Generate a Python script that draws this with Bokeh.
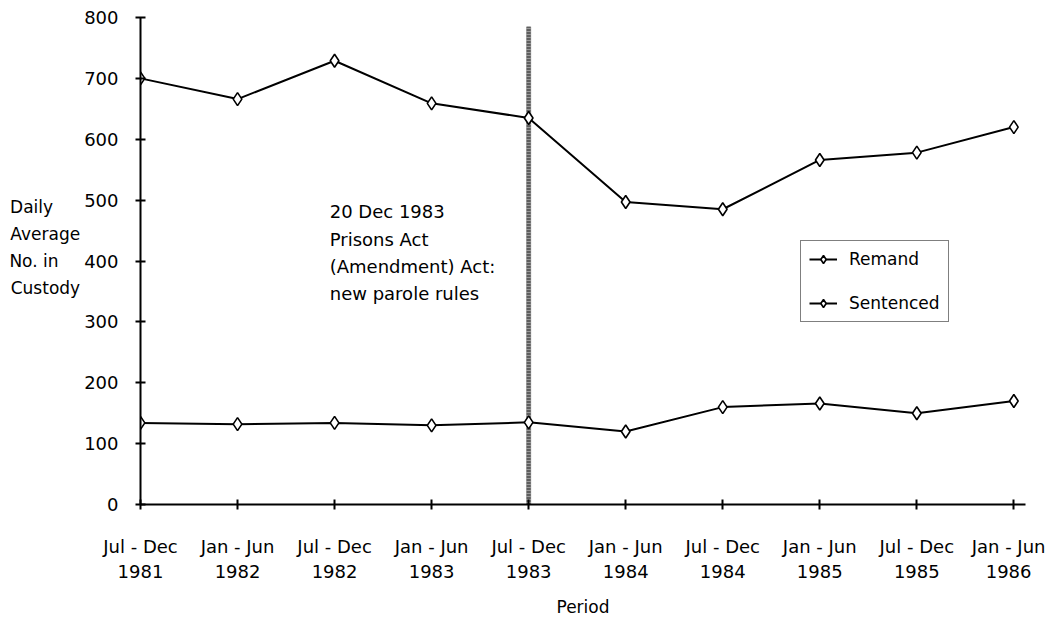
from bokeh.plotting import figure
from bokeh.models import (Range1d, FixedTicker, Label, Legend, LegendItem)
from bokeh.embed import file_html
from bokeh.resources import INLINE

# ---- data ----
periods = ["Jul - Dec\n1981", "Jan - Jun\n1982", "Jul - Dec\n1982", "Jan - Jun\n1983",
           "Jul - Dec\n1983", "Jan - Jun\n1984", "Jul - Dec\n1984", "Jan - Jun\n1985",
           "Jul - Dec\n1985", "Jan - Jun\n1986"]
remand = [134, 132, 134, 130, 135, 120, 160, 166, 150, 170]
sentenced = [700, 666, 729, 659, 635, 497, 485, 566, 578, 620]
y_ticks = [0, 100, 200, 300, 400, 500, 600, 700, 800]
event_index = 4          # Jul - Dec 1983 (20 Dec 1983)
event_top = 785
event_text = "20 Dec 1983\nPrisons Act\n(Amendment) Act:\n new parole rules"
y_label_lines = ["Daily", "Average", "No. in", "Custody"]
x_label = "Period"

FONT = "DejaVu Sans"
NB = "\u00a0"
xs = list(range(len(periods)))

# the axis title is drawn right-justified; pad short lines so they read left-aligned
pad = {"Daily": 5, "No. in": 4}
y_label = "\n".join(l + NB * pad.get(l, 0) for l in y_label_lines) + "\n"

p = figure(width=1045, height=619, output_backend="svg", toolbar_location=None,
           x_range=Range1d(0, 9.12), y_range=Range1d(0, 800),
           min_border_left=140, min_border_right=20, min_border_top=17, min_border_bottom=115)
p.outline_line_color = None
p.grid.visible = False
p.background_fill_color = "white"

# axes
p.xaxis.ticker = FixedTicker(ticks=xs)
p.xaxis.major_label_overrides = {i: lab for i, lab in zip(xs, periods)}
p.yaxis.ticker = FixedTicker(ticks=y_ticks)
for ax in (p.xaxis, p.yaxis):
    ax.axis_line_width = 2
    ax.axis_line_color = "black"
    ax.major_tick_line_width = 2
    ax.major_tick_line_color = "black"
    ax.major_tick_in = 5
    ax.major_tick_out = 5
    ax.minor_tick_line_color = None
    ax.major_label_text_font = FONT
    ax.major_label_text_color = "black"
    ax.axis_label_text_font = FONT
    ax.axis_label_text_font_size = "17px"
    ax.axis_label_text_font_style = "normal"
    ax.axis_label_text_color = "black"
p.xaxis.major_label_text_font_size = "18px"
p.xaxis.major_label_standoff = 26
p.yaxis.major_label_text_font_size = "18px"
p.yaxis.major_label_standoff = 17
p.xaxis.axis_label = x_label
p.xaxis.axis_label_standoff = 12
p.yaxis.axis_label = y_label
p.yaxis.axis_label_orientation = "horizontal"
p.yaxis.axis_label_text_align = "right"
p.yaxis.axis_label_text_line_height = 1.35
p.yaxis.axis_label_standoff = 1

# event line
p.segment(x0=[event_index], y0=[0], x1=[event_index], y1=[event_top],
          line_color="#9a9a9a", line_width=5)
p.segment(x0=[event_index], y0=[0], x1=[event_index], y1=[event_top],
          line_color="#222222", line_width=4, line_dash="1 2")

# series
r1l = p.line(xs, remand, line_color="black", line_width=2)
r1m = p.scatter(xs, remand, marker="diamond", size=13, fill_color="white",
                line_color="black", line_width=1.6)
r2l = p.line(xs, sentenced, line_color="black", line_width=2)
r2m = p.scatter(xs, sentenced, marker="diamond", size=13, fill_color="white",
                line_color="black", line_width=1.6)

legend = Legend(items=[LegendItem(label="Remand", renderers=[r1l, r1m]),
                       LegendItem(label="Sentenced", renderers=[r2l, r2m])],
                location=(660, 182), label_text_font=FONT, label_text_font_size="17px",
                label_text_color="black",
                glyph_width=28, glyph_height=20, label_height=20, label_standoff=12,
                spacing=24, padding=8, border_line_color="black", border_line_width=1.5,
                background_fill_color="white", background_fill_alpha=1.0)
p.add_layout(legend, "center")

# annotation text
p.add_layout(Label(x=1.95, y=498, text=event_text, text_font=FONT, text_font_size="18px",
                   text_baseline="top", text_align="left", text_line_height=1.3,
                   text_color="black"))

open("out.html", "w").write(file_html(p, INLINE))
